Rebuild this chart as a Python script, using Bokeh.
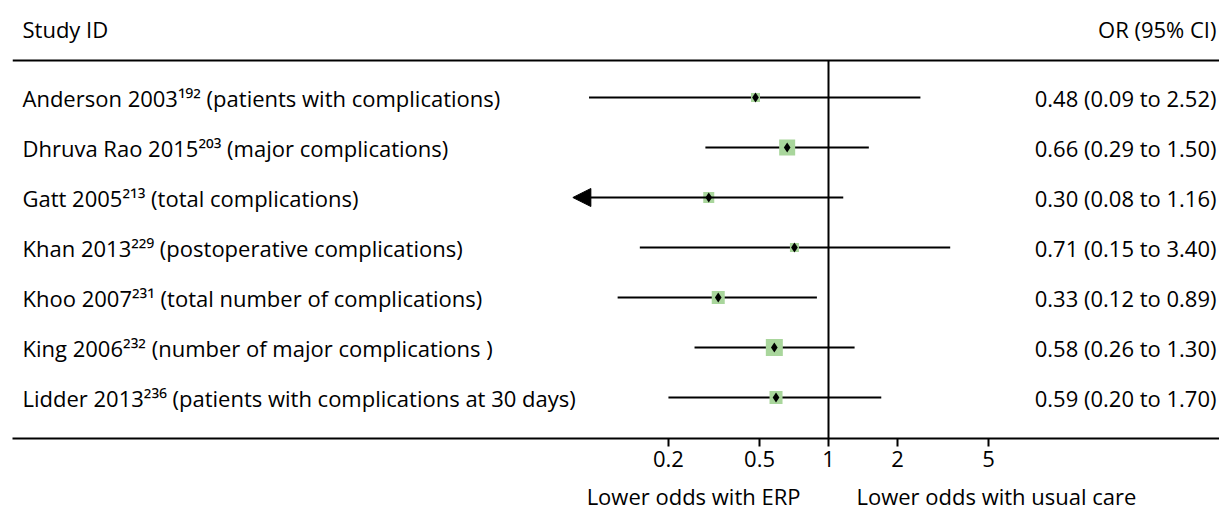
import numpy as np
from bokeh.plotting import figure
from bokeh.layouts import column
from bokeh.models import (Range1d, FixedTicker, CustomJSTickFormatter,
                          Arrow, NormalHead, Span)
from bokeh.embed import file_html
from bokeh.resources import INLINE
from bokeh.core.properties import value

# ---------------- data ----------------
studies = [
    "Anderson 2003\u00b9\u2079\u00b2 (patients with complications)",
    "Dhruva Rao 2015\u00b2\u2070\u00b3 (major complications)",
    "Gatt 2005\u00b2\u00b9\u00b3 (total complications)",
    "Khan 2013\u00b2\u00b2\u2079 (postoperative complications)",
    "Khoo 2007\u00b2\u00b3\u00b9 (total number of complications)",
    "King 2006\u00b2\u00b3\u00b2 (number of major complications )",
    "Lidder 2013\u00b2\u00b3\u2076 (patients with complications at 30 days)",
]
or_est = [0.48, 0.66, 0.30, 0.71, 0.33, 0.58, 0.59]
ci_lo = [0.09, 0.29, 0.08, 0.15, 0.12, 0.26, 0.20]
ci_hi = [2.52, 1.50, 1.16, 3.40, 0.89, 1.30, 1.70]
box_px = [9, 16, 11, 9, 13, 17, 13]          # study weight boxes
ci_text = ["0.48 (0.09 to 2.52)", "0.66 (0.29 to 1.50)", "0.30 (0.08 to 1.16)",
           "0.71 (0.15 to 3.40)", "0.33 (0.12 to 0.89)", "0.58 (0.26 to 1.30)",
           "0.59 (0.20 to 1.70)"]
tick_vals = [0.2, 0.5, 1, 2, 5]
left_note = "Lower odds with ERP"
right_note = "Lower odds with usual care"
head_left = "Study ID"
head_right = "OR (95% CI)"
display_min = 0.085   # CIs below this are drawn as arrows

# ---------------- layout ----------------
FONT = value("Open Sans")
FS = "22px"
W = 1219
FRAME_H = 438
H1, H2 = 480, 31
PAD_L = 12
PX_DEC = 229.0                      # pixels per decade
frame_w = W - PAD_L
one_px = 828 - PAD_L                # pixel of OR=1 within frame
x_start = 10 ** (-one_px / PX_DEC)
x_end = 10 ** ((frame_w - one_px) / PX_DEC)
xr = Range1d(x_start, x_end)

ys = np.arange(1, len(studies) + 1)
y_top, y_bot = -0.94, 7.82
y_head = -0.38
y_rule = 0.26

p = figure(width=W, height=H1, x_axis_type="log", y_axis_location=None,
           x_range=xr, y_range=Range1d(y_bot, y_top),
           output_backend="svg", toolbar_location=None,
           min_border_left=PAD_L, min_border_right=0,
           min_border_top=0, min_border_bottom=H1 - FRAME_H)
p.outline_line_color = None
p.xgrid.visible = False
p.ygrid.visible = False

ax = p.xaxis[0]
ax.ticker = FixedTicker(ticks=tick_vals, minor_ticks=[])
ax.formatter = CustomJSTickFormatter(code="return tick.toString();")
ax.axis_line_width = 2
ax.axis_line_color = "black"
ax.major_tick_in = 0
ax.major_tick_out = 8
ax.major_tick_line_width = 2
ax.minor_tick_line_color = None
ax.major_label_text_font = "Open Sans"
ax.major_label_text_font_size = FS
ax.major_label_text_color = "black"
ax.major_label_standoff = 4

# top rule
p.add_layout(Span(location=y_rule, dimension="width", line_color="black", line_width=2))
# line of no effect
p.segment(x0=[1], y0=[y_rule], x1=[1], y1=[y_bot], line_color="black", line_width=2)

# confidence intervals
for y, lo, hi in zip(ys, ci_lo, ci_hi):
    if lo < display_min:
        p.add_layout(Arrow(end=NormalHead(size=18, fill_color="black", line_color="black"),
                           x_start=hi, y_start=y, x_end=display_min * 0.9, y_end=y,
                           line_color="black", line_width=2))
    else:
        p.segment(x0=[lo], y0=[y], x1=[hi], y1=[y], line_color="black", line_width=2)

p.scatter(x=or_est, y=ys, marker="square", size=box_px, fill_color="#a9d69c",
          line_color=None)
p.scatter(x=or_est, y=ys, marker="diamond", size=10, fill_color="black",
          line_color=None)

# text columns
txt = dict(text_baseline="middle", text_font=FONT, text_font_size=FS, text_color="black")
p.text(x=[x_start] * len(ys), y=ys, text=studies, x_offset=10, text_align="left", **txt)
p.text(x=[x_end] * len(ys), y=ys, text=ci_text, x_offset=-3, text_align="right", **txt)
p.text(x=[x_start], y=[y_head], text=[head_left], x_offset=10, text_align="left", **txt)
p.text(x=[x_end], y=[y_head], text=[head_right], x_offset=-3, text_align="right", **txt)

# direction notes underneath the axis
q = figure(width=W, height=H2, x_axis_type="log", x_axis_location=None,
           y_axis_location=None, x_range=xr, y_range=Range1d(0, 1),
           output_backend="svg", toolbar_location=None,
           min_border_left=PAD_L, min_border_right=0, min_border_top=0,
           min_border_bottom=0)
q.outline_line_color = None
q.xgrid.visible = False
q.ygrid.visible = False
q.text(x=[1], y=[0.5], text=[left_note], x_offset=-28, text_align="right", **txt)
q.text(x=[1], y=[0.5], text=[right_note], x_offset=28, text_align="left", **txt)

layout = column(p, q, spacing=0)
open("out.html", "w").write(file_html(layout, INLINE))
